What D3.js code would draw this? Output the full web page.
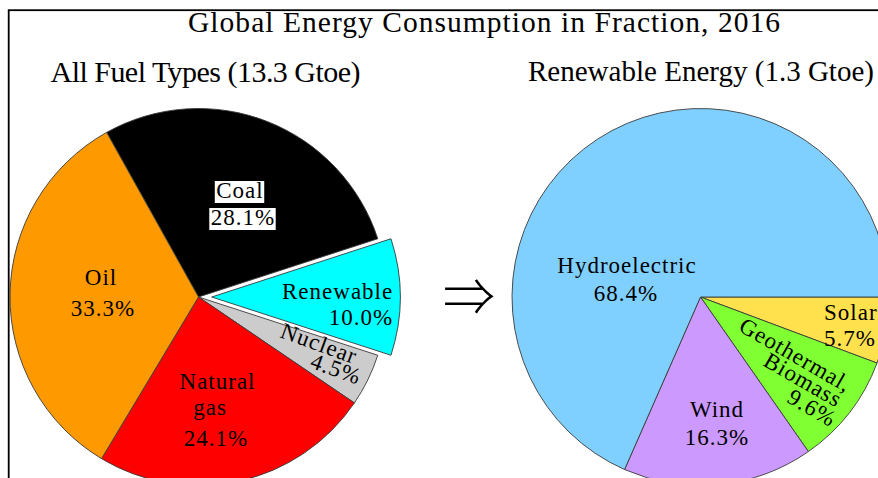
<!DOCTYPE html>
<html><head><meta charset="utf-8">
<script src="https://cdn.jsdelivr.net/npm/d3@7"></script>
<style>body{margin:0;background:#fff} svg{display:block}</style>
</head><body>
<svg id="chart" width="878" height="478"></svg>
<script>
// ---- data ----
const titleText = "Global Energy Consumption in Fraction, 2016";
const leftTitle = "All Fuel Types (13.3 Gtoe)";
const rightTitle = "Renewable Energy (1.3 Gtoe)";
const fuelCategories = ["Coal", "Renewable", "Nuclear", "Natural gas", "Oil"];
const fuelValues = [28.1, 10.0, 4.5, 24.1, 33.3];
const fuelColors = ["#000000", "#00FFFF", "#CCCCCC", "#FF0000", "#FF9900"];
const renewCategories = ["Solar", "Geothermal, Biomass", "Wind", "Hydroelectric"];
const renewValues = [5.7, 9.6, 16.3, 68.4];
const renewColors = ["#FFE14D", "#80FF33", "#CC99FF", "#80D0FF"];
const explodedCategory = "Renewable";

// ---- layout ----
const W = 878, H = 478;
const R = 188.5;
const leftC = [198.5, 297], rightC = [700.5, 297];
const explodeFrac = 0.07;
const serif = "'Liberation Serif','Times New Roman',serif";

const svg = d3.select("#chart");
svg.append("rect").attr("x", 8.7).attr("y", 10.2).attr("width", W + 20).attr("height", H + 20)
  .attr("fill", "none").attr("stroke", "#000").attr("stroke-width", 1.8);

// label layout: offsets (px) from the pie centre for each line
const fuelLabelLayout = {
  "Coal":        {anchor: "middle", box: true, lines: [[41.5, -99], [44.5, -72]]},
  "Oil":         {anchor: "middle", lines: [[-97.5, -12], [-95.5, 19]]},
  "Natural gas": {anchor: "middle", wrap: true, lines: [[19, 92], [11.5, 118], [17.5, 149]]},
  "Renewable":   {anchor: "end", lines: [[181.5, 1.5], [181.5, 27.5]]},
  "Nuclear":     {anchor: "middle", rotate: 20, lines: [[120.5, 46.5], [137.5, 72]]}
};
const renewLabelLayout = {
  "Hydroelectric":       {anchor: "middle", lines: [[-73.5, -24], [-74.5, 4]]},
  "Wind":                {anchor: "middle", lines: [[16.5, 120], [16.5, 148]]},
  "Geothermal, Biomass": {anchor: "middle", wrap: true, rotate: 30, lines: [[95, 58], [102.5, 83], [111.5, 111]]},
  "Solar":               {anchor: "start", lines: [[123.5, 22.5], [123.5, 48.5]]}
};

function drawPie(center, cats, vals, cols, startAngle, layout) {
  const data = cats.map((c, i) => ({c, v: vals[i], col: cols[i]}));
  const pie = d3.pie().sort(null).value(d => d.v)
    .startAngle(startAngle).endAngle(startAngle + 2 * Math.PI);
  const arc = d3.arc().innerRadius(0).outerRadius(R);
  const g = svg.append("g").attr("transform", `translate(${center[0]},${center[1]})`);
  const arcs = pie(data);
  arcs.forEach(a => {
    const mid = (a.startAngle + a.endAngle) / 2;
    const off = a.data.c === explodedCategory ? explodeFrac * R : 0;
    a.ox = Math.sin(mid) * off; a.oy = -Math.cos(mid) * off;
  });
  g.selectAll("path.wedge").data(arcs).join("path").attr("class", "wedge")
    .attr("d", arc)
    .attr("transform", d => `translate(${d.ox},${d.oy})`)
    .attr("fill", d => d.data.col)
    .attr("stroke", "#3a3a3a").attr("stroke-width", 0.9).attr("stroke-linejoin", "round");

  arcs.forEach(a => {
    const L = layout[a.data.c];
    if (!L) return;
    const nameLines = L.wrap ? a.data.c.split(" ") : [a.data.c];
    const texts = nameLines.concat([a.data.v.toFixed(1) + "%"]);
    const lg = g.append("g").attr("transform", `translate(${a.ox},${a.oy})`);
    texts.forEach((t, i) => {
      const [dx, dy] = L.lines[i];
      let node;
      if (L.rotate) {
        node = lg.append("text")
          .attr("transform", `translate(${dx},${dy}) rotate(${L.rotate})`)
          .attr("dominant-baseline", "central");
      } else {
        node = lg.append("text").attr("x", dx).attr("y", dy);
      }
      node.text(t).attr("text-anchor", L.anchor)
        .attr("font-family", serif).attr("font-size", 23)
        .attr("letter-spacing", "1px").attr("fill", "#000");
      if (L.box) {
        const bb = node.node().getBBox();
        lg.insert("rect", () => node.node())
          .attr("x", bb.x - 1.5).attr("y", bb.y + 3).attr("width", bb.width + 2)
          .attr("height", bb.height - 3).attr("fill", "#fff");
      }
    });
  });
}

// left pie: exploded slice centred on the right-hand horizontal
const ei = fuelCategories.indexOf(explodedCategory);
const fuelTotal = d3.sum(fuelValues);
const leftStart = Math.PI / 2 - 2 * Math.PI * (d3.sum(fuelValues.slice(0, ei)) + fuelValues[ei] / 2) / fuelTotal;
drawPie(leftC, fuelCategories, fuelValues, fuelColors, leftStart, fuelLabelLayout);
// right pie: first slice starts at 3 o'clock
drawPie(rightC, renewCategories, renewValues, renewColors, Math.PI / 2, renewLabelLayout);

// titles
svg.append("text").attr("x", 484).attr("y", 32).attr("text-anchor", "middle")
  .attr("font-family", serif).attr("font-size", 29.5)
  .attr("textLength", 592).attr("lengthAdjust", "spacing").attr("fill", "#000").text(titleText);
svg.append("text").attr("x", 50.5).attr("y", 82)
  .attr("font-family", serif).attr("font-size", 30)
  .attr("textLength", 310).attr("lengthAdjust", "spacing").attr("fill", "#000").text(leftTitle);
svg.append("text").attr("x", 528).attr("y", 81)
  .attr("font-family", serif).attr("font-size", 29)
  .attr("textLength", 346).attr("lengthAdjust", "spacing").attr("fill", "#000").text(rightTitle);

// arrow between pies
svg.append("text").attr("x", 469).attr("y", 293)
  .attr("text-anchor", "middle").attr("dominant-baseline", "central")
  .attr("font-family", "'Noto Sans CJK JP','DejaVu Sans',sans-serif").attr("font-weight", 300)
  .attr("font-size", 52).attr("fill", "#000").text("⇒");
</script>
</body></html>
